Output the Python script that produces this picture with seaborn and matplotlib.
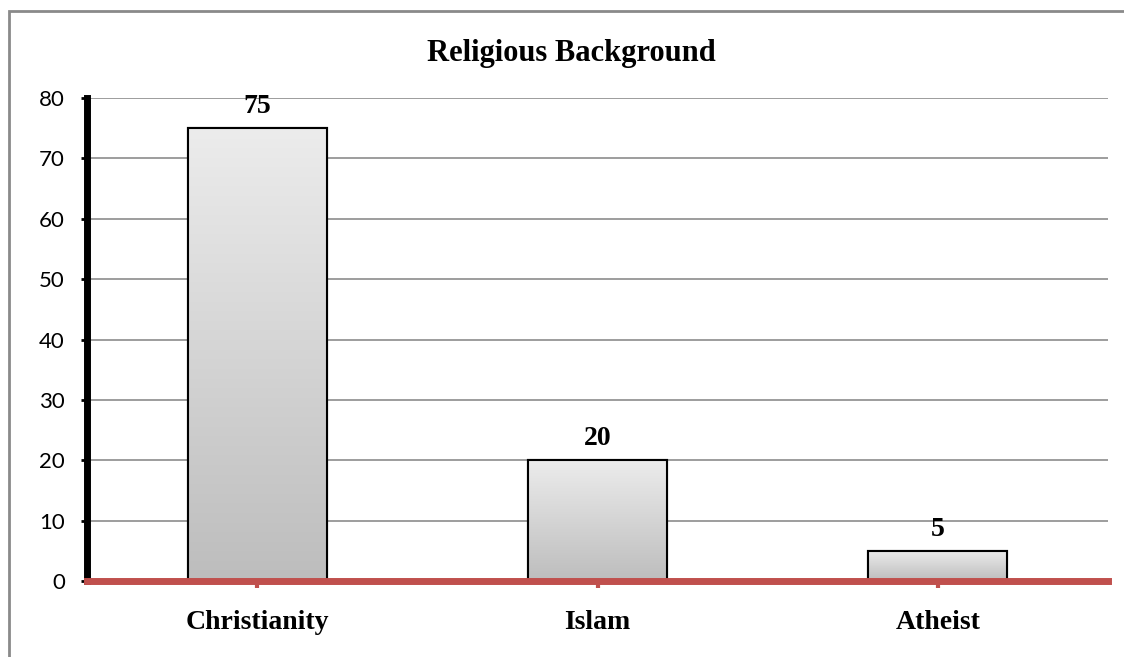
import numpy as np
import pandas as pd
import seaborn as sns
import matplotlib.pyplot as plt
from matplotlib.patches import Rectangle
from matplotlib.colors import LinearSegmentedColormap

# data
religions = ['Christianity', 'Islam', 'Atheist']
counts = [75, 20, 5]
y_ticks = [0, 10, 20, 30, 40, 50, 60, 70, 80]

df = pd.DataFrame({'Religion': religions, 'Count': counts})

sns.set_style('white')
plt.rcParams['font.family'] = ['Lato', 'DejaVu Sans']
plt.rcParams['text.color'] = 'black'
plt.rcParams['xtick.color'] = 'black'
plt.rcParams['ytick.color'] = 'black'

fig = plt.figure(figsize=(11.24, 6.57), dpi=100)
ax = fig.add_axes([0.0774, 0.1157, 0.9084, 0.7351])

sns.barplot(data=df, x='Religion', y='Count', ax=ax, width=0.408,
            color='#d8d8d8', edgecolor='black', linewidth=1.5, zorder=3)

# gradient fill clipped to each bar
grad = np.linspace(0, 1, 256).reshape(-1, 1)
cmap = LinearSegmentedColormap.from_list('g', ['#bdbdbd', '#ececec'])
for bar in list(ax.patches):
    x0, y0 = bar.get_x(), bar.get_y()
    w, h = bar.get_width(), bar.get_height()
    im = ax.imshow(grad, cmap=cmap, extent=[x0, x0 + w, y0, y0 + h],
                   origin='lower', aspect='auto', zorder=3.5)
    im.set_clip_path(bar)
    ax.add_patch(Rectangle((x0, y0), w, h, fill=False, edgecolor='black', linewidth=1.5, zorder=4))

# value labels
for i, v in enumerate(counts):
    ax.text(i, v + 1.5, str(v), ha='center', va='bottom', fontsize=20, fontweight='bold',
            family='Liberation Serif', color='black', zorder=5)

ax.set_xlim(-0.5, 2.5)
ax.set_ylim(0, 80)
ax.set_yticks(y_ticks)
ax.yaxis.grid(True, color='#8c8c8c', linewidth=1.2, zorder=0)
ax.set_axisbelow(True)

for s in ['top', 'right']:
    ax.spines[s].set_visible(False)
ax.spines['left'].set_color('black')
ax.spines['left'].set_linewidth(5)
ax.spines['bottom'].set_color('#c0504d')
ax.spines['bottom'].set_linewidth(5)
ax.spines['bottom'].set_zorder(6)

ax.tick_params(axis='y', labelsize=16, length=4, width=2, color='black', pad=12, left=True)
ax.tick_params(axis='x', length=5, width=3, color='#c0504d', pad=16, bottom=True)
for lab in ax.get_xticklabels():
    lab.set_fontfamily('Liberation Serif')
    lab.set_fontweight('bold')
    lab.set_fontsize(20)
    lab.set_color('black')

ax.set_xlabel('')
ax.set_ylabel('')
fig.text(0.508, 0.918, 'Religious Background', ha='center', va='center',
         fontsize=22, fontweight='bold', family='Liberation Serif', color='black')

# outer chart border
fig.add_artist(Rectangle((9 / 1124, -0.2), 1.2, 1.2 - 11 / 657, transform=fig.transFigure,
                         fill=False, edgecolor='#8a8a8a', linewidth=2))

fig.savefig('out.png', dpi=100)
